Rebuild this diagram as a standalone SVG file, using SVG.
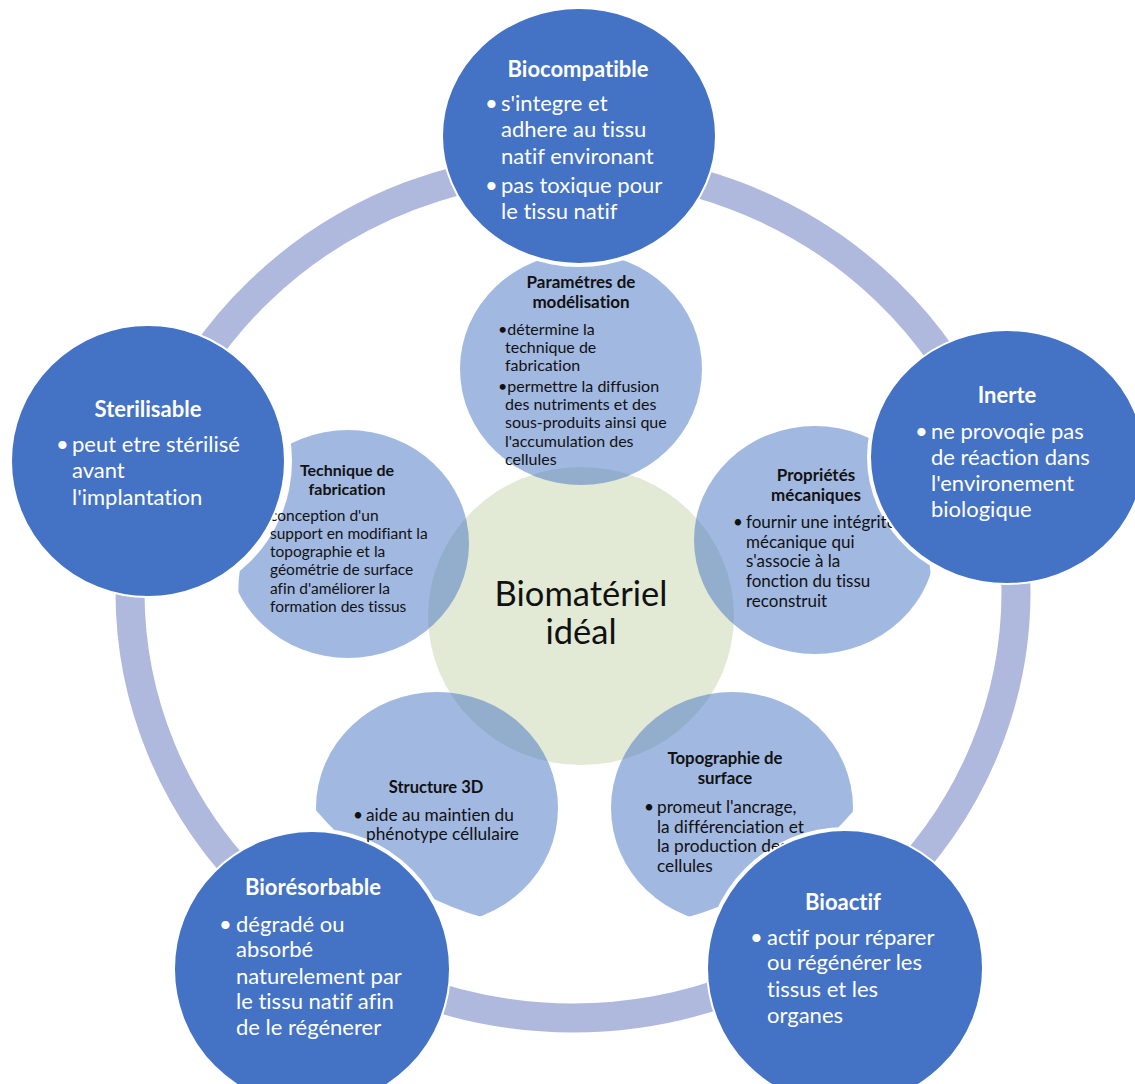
<svg xmlns="http://www.w3.org/2000/svg" width="1135" height="1084" viewBox="0 0 1135 1084">
<style>
text{font-variant-ligatures:none;font-feature-settings:"liga" 0,"clig" 0}
.outer{fill:#4472c4;stroke:#ffffff;stroke-width:2}
.inner{fill:#4472c4;fill-opacity:0.5}
.halo{fill:#ffffff}
.ring{fill:none;stroke:#afb8dd;stroke-width:29}
.ot{font-family:Lato,"Liberation Sans",sans-serif;font-size:22px;fill:#ffffff}
.oh{font-family:Lato,"Liberation Sans",sans-serif;font-size:22px;font-weight:bold;fill:#ffffff;text-anchor:middle}
.it{font-family:Lato,"Liberation Sans",sans-serif;fill:#111111}
.ih{font-family:Lato,"Liberation Sans",sans-serif;font-weight:bold;fill:#111111;text-anchor:middle}
.ct{font-family:Lato,"Liberation Sans",sans-serif;font-size:34.5px;fill:#111111;text-anchor:middle}
</style>
<defs>
<clipPath id="innerClip">
<ellipse cx="585" cy="602" rx="347" ry="330"/>
<rect x="420" y="220" width="330" height="200"/>
</clipPath>
</defs>
<rect width="1135" height="1084" fill="#ffffff"/>
<g id="center">
<ellipse cx="581" cy="616" rx="153" ry="149" fill="#e2ead6"/>
</g>
<g id="inner-fills" clip-path="url(#innerClip)">
<ellipse class="inner" cx="581" cy="369" rx="121" ry="116"/>
<ellipse class="inner" cx="348" cy="544" rx="121" ry="114"/>
<ellipse class="inner" cx="815" cy="540" rx="121" ry="114"/>
<ellipse class="inner" cx="437" cy="808" rx="121" ry="116"/>
<ellipse class="inner" cx="732" cy="808" rx="121" ry="116"/>
</g>
<g id="halos">
<ellipse class="halo" cx="579" cy="136" rx="140" ry="131"/>
<ellipse class="halo" cx="148" cy="461" rx="144" ry="143"/>
<ellipse class="halo" cx="1007" cy="457" rx="140" ry="130"/>
<circle class="halo" cx="312" cy="969" r="141"/>
<circle class="halo" cx="845" cy="968" r="141"/>
</g>
<g id="center-text">
<text class="ct" x="581" y="606">Biomatériel</text>
<text class="ct" x="581" y="644">idéal</text>
</g>
<g id="node-parametres" font-size="16px">
<text class="ih" x="581" y="288" font-size="17px">Paramétres de</text>
<text class="ih" x="581" y="308" font-size="17px">modélisation</text>
<text class="it" x="498" y="335">•détermine la</text>
<text class="it" x="505" y="353">technique de</text>
<text class="it" x="505" y="371">fabrication</text>
<text class="it" x="498" y="392">•permettre la diffusion</text>
<text class="it" x="505" y="410">des nutriments et des</text>
<text class="it" x="505" y="428">sous-produits ainsi que</text>
<text class="it" x="505" y="447">l'accumulation des</text>
<text class="it" x="505" y="465">cellules</text>
</g>
<g id="node-technique" font-size="15.5px">
<text class="ih" x="347" y="476" font-size="16px">Technique de</text>
<text class="ih" x="347" y="495" font-size="16px">fabrication</text>
<text class="it" x="270" y="521">conception d'un</text>
<text class="it" x="270" y="539">support en modifiant la</text>
<text class="it" x="270" y="557">topographie et la</text>
<text class="it" x="270" y="575">géométrie de surface</text>
<text class="it" x="270" y="594">afin d'améliorer la</text>
<text class="it" x="270" y="612">formation des tissus</text>
</g>
<g id="node-proprietes" font-size="17px">
<text class="ih" x="816" y="481">Propriétés</text>
<text class="ih" x="816" y="501">mécaniques</text>
<text class="it" x="733" y="528">•</text>
<text class="it" x="746" y="528">fournir une intégrité</text>
<text class="it" x="746" y="548">mécanique qui</text>
<text class="it" x="746" y="567">s'associe à la</text>
<text class="it" x="746" y="587">fonction du tissu</text>
<text class="it" x="746" y="607">reconstruit</text>
</g>
<g id="node-structure" font-size="17.3px">
<text class="ih" x="436" y="793" font-size="16.5px">Structure 3D</text>
<text class="it" x="353" y="821">•</text>
<text class="it" x="366" y="821">aide au maintien du</text>
<text class="it" x="366" y="840">phénotype céllulaire</text>
</g>
<g id="node-topographie" font-size="17.3px">
<text class="ih" x="725" y="764" font-size="16.8px">Topographie de</text>
<text class="ih" x="725" y="784" font-size="16.8px">surface</text>
<text class="it" x="644" y="813">•</text>
<text class="it" x="657" y="813">promeut l'ancrage,</text>
<text class="it" x="657" y="833">la différenciation et</text>
<text class="it" x="657" y="852">la production des</text>
<text class="it" x="657" y="872">cellules</text>
</g>
<g id="connectors">
<ellipse class="ring" cx="573" cy="592" rx="443" ry="426"/>
</g>
<g id="node-biocompatible">
<ellipse class="outer" cx="579" cy="136" rx="137" ry="128"/>
<text class="oh" x="578" y="77">Biocompatible</text>
<text class="ot" x="485" y="111">•</text>
<text class="ot" x="501" y="111">s'integre et</text>
<text class="ot" x="501" y="137">adhere au tissu</text>
<text class="ot" x="501" y="164">natif environant</text>
<text class="ot" x="485" y="193">•</text>
<text class="ot" x="501" y="193">pas toxique pour</text>
<text class="ot" x="501" y="219">le tissu natif</text>
</g>
<g id="node-sterilisable">
<ellipse class="outer" cx="148" cy="461" rx="137" ry="136"/>
<text class="oh" x="148" y="417">Sterilisable</text>
<text class="ot" x="56" y="452">•</text>
<text class="ot" x="72" y="452">peut etre stérilisé</text>
<text class="ot" x="72" y="478">avant</text>
<text class="ot" x="72" y="505">l'implantation</text>
</g>
<g id="node-inerte">
<ellipse class="outer" cx="1007" cy="457" rx="137" ry="127"/>
<text class="oh" x="1007" y="403">Inerte</text>
<text class="ot" x="915" y="439">•</text>
<text class="ot" x="931" y="439">ne provoqie pas</text>
<text class="ot" x="931" y="465">de réaction dans</text>
<text class="ot" x="931" y="491">l'environement</text>
<text class="ot" x="931" y="517">biologique</text>
</g>
<g id="node-bioresorbable">
<circle class="outer" cx="312" cy="969" r="138"/>
<text class="oh" x="313" y="895">Biorésorbable</text>
<text class="ot" x="219" y="932">•</text>
<text class="ot" x="236" y="932">dégradé ou</text>
<text class="ot" x="236" y="957">absorbé</text>
<text class="ot" x="236" y="984">naturelement par</text>
<text class="ot" x="236" y="1009">le tissu natif afin</text>
<text class="ot" x="236" y="1035">de le régénerer</text>
</g>
<g id="node-bioactif">
<circle class="outer" cx="845" cy="968" r="138"/>
<text class="oh" x="843" y="910">Bioactif</text>
<text class="ot" x="750" y="945">•</text>
<text class="ot" x="767" y="945">actif pour réparer</text>
<text class="ot" x="767" y="970">ou régénérer les</text>
<text class="ot" x="767" y="997">tissus et les</text>
<text class="ot" x="767" y="1023">organes</text>
</g>
</svg>
